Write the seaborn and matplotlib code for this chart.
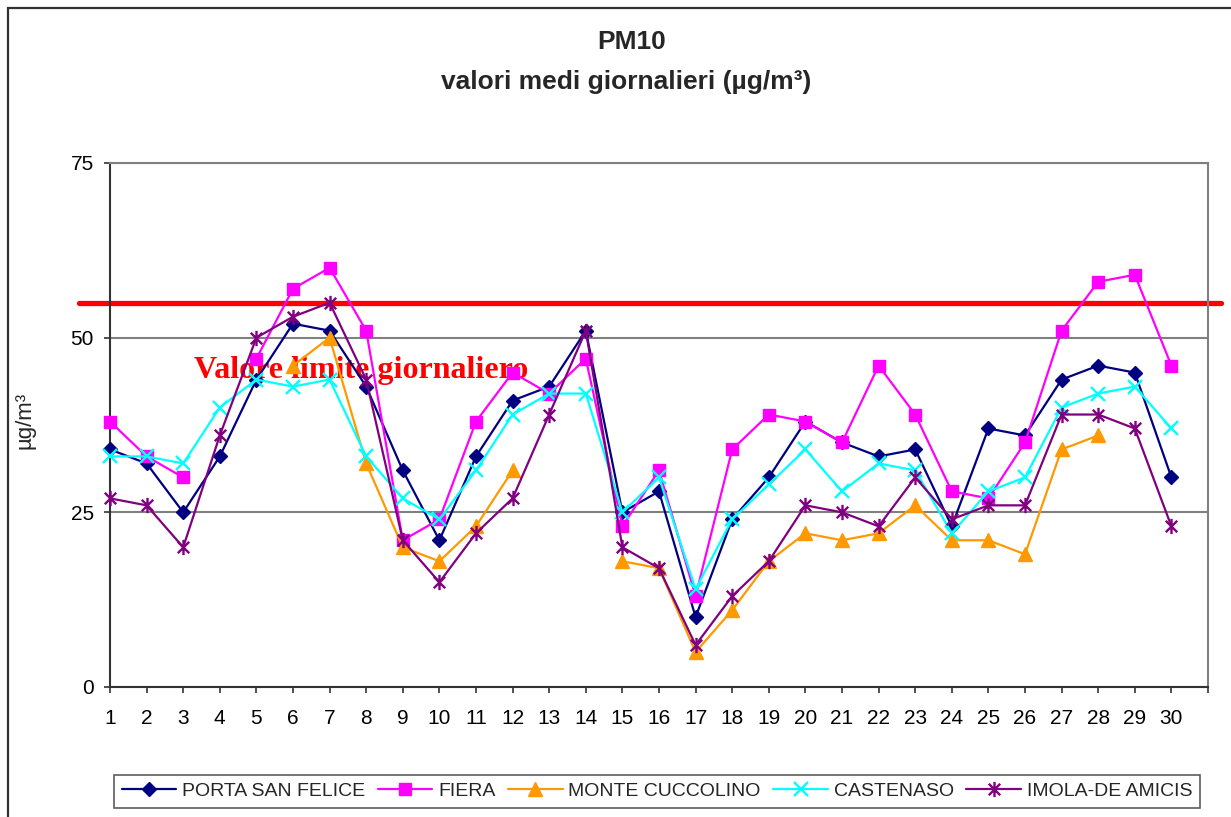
import numpy as np
import pandas as pd
import matplotlib
matplotlib.use("Agg")
import matplotlib.pyplot as plt
from matplotlib.lines import Line2D
from matplotlib.path import Path
from matplotlib.patches import Rectangle
import seaborn as sns

# ---------------- data ----------------
days = list(range(1, 31))
nan = np.nan
porta_san_felice = [34, 32, 25, 33, 44, 52, 51, 43, 31, 21, 33, 41, 43, 51, 25,
                    28, 10, 24, 30, 38, 35, 33, 34, 23, 37, 36, 44, 46, 45, 30]
fiera = [38, 33, 30, nan, 47, 57, 60, 51, 21, 24, 38, 45, 42, 47, 23,
         31, 13, 34, 39, 38, 35, 46, 39, 28, 27, 35, 51, 58, 59, 46]
monte_cuccolino = [nan, nan, nan, nan, nan, 46, 50, 32, 20, 18, 23, 31, nan, nan, 18,
                   17, 5, 11, 18, 22, 21, 22, 26, 21, 21, 19, 34, 36, nan, nan]
castenaso = [33, 33, 32, 40, 44, 43, 44, 33, 27, 24, 31, 39, 42, 42, 25,
             30, 14, 24, 29, 34, 28, 32, 31, 22, 28, 30, 40, 42, 43, 37]
imola_de_amicis = [27, 26, 20, 36, 50, 53, 55, 44, 21, 15, 22, 27, 39, 51, 20,
                   17, 6, 13, 18, 26, 25, 23, 30, 24, 26, 26, 39, 39, 37, 23]
series_names = ["PORTA SAN FELICE", "FIERA", "MONTE CUCCOLINO", "CASTENASO", "IMOLA-DE AMICIS"]
series_values = [porta_san_felice, fiera, monte_cuccolino, castenaso, imola_de_amicis]
limit_value = 55
limit_label = "Valore limite giornaliero"
y_ticks = [0, 25, 50, 75]
x_tick_labels = [str(d) for d in days]

# ---------------- styles ----------------
asterisk = Path([(0, -1), (0, 1), (-0.75, -0.75), (0.75, 0.75), (-0.75, 0.75), (0.75, -0.75)],
                [Path.MOVETO, Path.LINETO, Path.MOVETO, Path.LINETO, Path.MOVETO, Path.LINETO])
styles = [
    dict(color="#000080", marker="D", markersize=7.5, mec="#000080", mew=1.0),
    dict(color="#FF00FF", marker="s", markersize=8.5, mec="#FF00FF", mew=1.0),
    dict(color="#FF9900", marker="^", markersize=10, mec="#FF9900", mew=1.0),
    dict(color="#00FFFF", marker="x", markersize=10, mec="#00FFFF", mew=1.7),
    dict(color="#800080", marker=asterisk, markersize=11, mec="#800080", mew=1.7),
]

sns.set_theme(style="white")
plt.rcParams["font.family"] = ["Liberation Sans", "DejaVu Sans"]

W, H = 1231, 817
fig = plt.figure(figsize=(W / 100, H / 100), dpi=100)
fig.patch.set_facecolor("white")
ax = fig.add_axes([110 / W, 1 - 687 / H, (1208 - 110) / W, (687 - 163) / H])

# outer chart frame
fig.patches.append(Rectangle((8 / W, -0.2), 1.5, 1.2 - 8 / H, transform=fig.transFigure,
                             fill=False, edgecolor="#333333", lw=1.6, zorder=0))

# series
for name, vals, st in zip(series_names, series_values, styles):
    df = pd.DataFrame({"day": days, "val": vals})
    df["seg"] = df["val"].isna().cumsum()
    df = df.dropna()
    sns.lineplot(data=df, x="day", y="val", units="seg", estimator=None, ax=ax,
                 color=st["color"], marker=st["marker"], markersize=st["markersize"],
                 mec=st["mec"], mew=st["mew"], linewidth=1.6, clip_on=False, zorder=3,
                 legend=False)

# limit line
ax.axhline(limit_value, xmin=(79 - 110) / 1098, xmax=(1221 - 110) / 1098,
           color="#FF0000", lw=3.8, clip_on=False, zorder=2)
ax.text(3.29, 44.2, limit_label, color="#FF0000", fontsize=23, fontweight="bold",
        family=["Liberation Serif", "DejaVu Serif"], va="baseline", ha="left", zorder=1)

# axes
ax.set_xlim(1, 31)
ax.set_ylim(0, 75)
ax.set_xticks(list(range(1, 32)))
ax.set_xticklabels(x_tick_labels + [""])
ax.set_yticks(y_ticks)
ax.set_yticklabels([str(v) for v in y_ticks])
ax.set_xlabel("")
ax.set_ylabel("")
ax.yaxis.grid(True, color="#808080", lw=1.5)
ax.xaxis.grid(False)
ax.set_axisbelow(True)
for s in ["left", "bottom"]:
    ax.spines[s].set_color("#333333")
    ax.spines[s].set_linewidth(1.5)
for s in ["right", "top"]:
    ax.spines[s].set_color("#808080")
    ax.spines[s].set_linewidth(1.5)
ax.tick_params(axis="both", direction="out", length=4.5, width=1.2, color="#333333",
               labelsize=15, labelcolor="black")
ax.tick_params(axis="y", pad=7)
ax.tick_params(axis="x", pad=11, bottom=True)
ax.tick_params(axis="y", left=True)

# titles
fig.text(632 / W, 1 - 42 / H, "PM10", ha="center", va="center", fontsize=19, fontweight="bold")
fig.text(626 / W, 1 - 82 / H, "valori medi giornalieri (µg/m³)", ha="center", va="center",
         fontsize=19, fontweight="bold")
fig.text(25 / W, 1 - 420 / H, "µg/m³", rotation=90, ha="center", va="center", fontsize=16)

# legend
handles = [Line2D([], [], color=st["color"], marker=st["marker"], markersize=st["markersize"],
                  mec=st["mec"], mfc=st["color"], mew=st["mew"], lw=1.6) for st in styles]
leg = fig.legend(handles, series_names, loc="lower left",
                 bbox_to_anchor=(114 / W, 1 - 808 / H, (1200 - 114) / W, 40 / H),
                 mode="expand", ncol=5, fontsize=14, frameon=True, fancybox=False,
                 handlelength=2.8, handletextpad=0.3, columnspacing=0.2, borderpad=0.4,
                 borderaxespad=0)
leg.get_frame().set_edgecolor("#333333")
leg.get_frame().set_linewidth(1.2)

fig.savefig("out.png", dpi=100, facecolor="white")
